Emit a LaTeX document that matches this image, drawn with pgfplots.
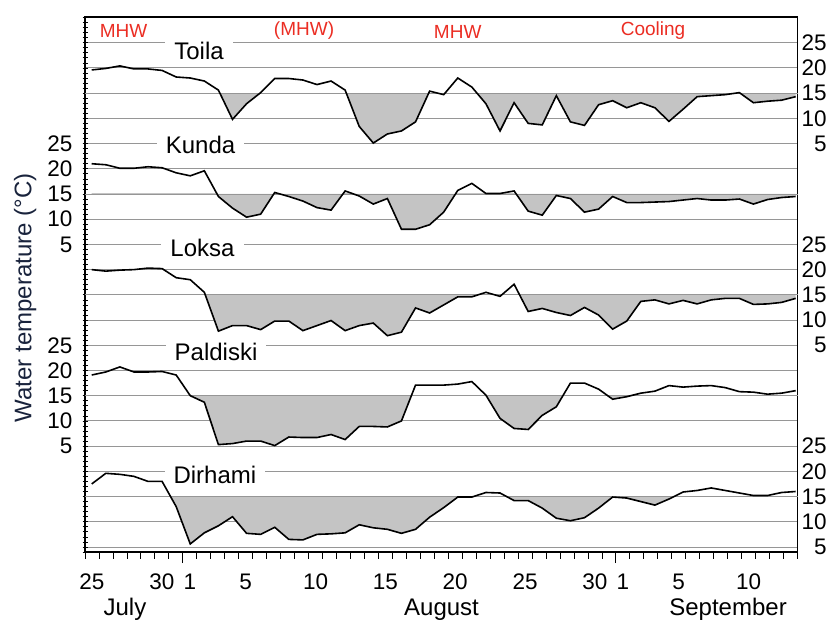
\documentclass[border=0pt]{standalone}
\usepackage{pgfplots}
\pgfplotsset{compat=1.18}
\usepackage{pgfplotstable}
\usepackage{fontspec}
\setmainfont{Liberation Sans}
\definecolor{mhwred}{RGB}{235,45,35}
\definecolor{gridgray}{RGB}{150,150,150}
\definecolor{shade}{RGB}{196,196,196}
\definecolor{ylab}{RGB}{25,35,60}
\newcommand\tickfont{\fontsize{22.5}{26}\selectfont}
\newcommand\namefont{\fontsize{24}{28}\selectfont}
\newcommand\redfont{\fontsize{19}{22}\selectfont}

\pgfplotstableread{
d T
0 19.6
1 19.9
2 20.4
3 19.8
4 19.8
5 19.5
6 18.2
7 18.0
8 17.4
9 15.6
10 9.8
11 12.9
12 15.1
13 17.9
14 17.9
15 17.6
16 16.7
17 17.4
18 15.6
19 8.4
20 5.1
21 6.9
22 7.5
23 9.3
24 15.4
25 14.7
26 18.0
27 16.2
28 12.9
29 7.5
30 13.1
31 9.0
32 8.7
33 14.5
34 9.3
35 8.6
36 12.7
37 13.5
38 12.1
39 13.1
40 12.1
41 9.4
42 11.8
43 14.3
44 14.5
45 14.7
46 15.1
47 13.1
48 13.4
49 13.6
50 14.3
}\toila

\pgfplotstableread{
d T
0 21.0
1 20.8
2 20.1
3 20.1
4 20.4
5 20.2
6 19.2
7 18.6
8 19.6
9 14.5
10 12.2
11 10.4
12 11.0
13 15.3
14 14.5
15 13.6
16 12.3
17 11.8
18 15.6
19 14.6
20 13.0
21 14.1
22 8.0
23 8.0
24 8.9
25 11.4
26 15.7
27 17.1
28 15.1
29 15.1
30 15.6
31 11.6
32 10.8
33 14.7
34 14.1
35 11.4
36 12.0
37 14.5
38 13.3
39 13.3
40 13.4
41 13.5
42 13.8
43 14.1
44 13.8
45 13.8
46 14.0
47 13.0
48 13.9
49 14.3
50 14.5
}\kunda

\pgfplotstableread{
d T
0 20.0
1 19.7
2 19.9
3 20.0
4 20.3
5 20.2
6 18.4
7 18.0
8 15.5
9 7.8
10 8.9
11 8.9
12 8.1
13 9.8
14 9.8
15 7.9
16 8.9
17 9.9
18 7.9
19 8.9
20 9.4
21 6.9
22 7.6
23 12.4
24 11.4
25 13.0
26 14.6
27 14.6
28 15.5
29 14.7
30 17.1
31 11.7
32 12.3
33 11.5
34 10.9
35 12.5
36 11.0
37 8.2
38 9.8
39 13.7
40 14.0
41 13.2
42 13.9
43 13.2
44 14.0
45 14.3
46 14.3
47 13.1
48 13.2
49 13.5
50 14.3
}\loksa

\pgfplotstableread{
d T
0 19.1
1 19.7
2 20.7
3 19.7
4 19.7
5 19.8
6 19.1
7 15.0
8 13.7
9 5.3
10 5.5
11 6.0
12 6.0
13 5.1
14 6.8
15 6.7
16 6.7
17 7.3
18 6.3
19 8.9
20 8.9
21 8.8
22 10.0
23 17.1
24 17.1
25 17.1
26 17.3
27 17.8
28 15.1
29 10.5
30 8.5
31 8.3
32 11.1
33 12.8
34 17.5
35 17.5
36 16.3
37 14.3
38 14.8
39 15.5
40 15.9
41 17.0
42 16.7
43 16.9
44 17.0
45 16.6
46 15.8
47 15.7
48 15.3
49 15.5
50 16.0
}\paldiski

\pgfplotstableread{
d T
0 17.5
1 19.6
2 19.4
3 19.0
4 18.0
5 18.0
6 13.0
7 5.6
8 7.8
9 9.2
10 11.0
11 7.7
12 7.5
13 8.9
14 6.5
15 6.4
16 7.5
17 7.6
18 7.8
19 9.4
20 8.8
21 8.5
22 7.7
23 8.5
24 10.9
25 12.8
26 14.9
27 14.9
28 15.8
29 15.7
30 14.2
31 14.2
32 12.7
33 10.7
34 10.2
35 10.8
36 12.7
37 14.9
38 14.7
39 14.0
40 13.3
41 14.5
42 15.9
43 16.2
44 16.7
45 16.2
46 15.7
47 15.2
48 15.2
49 15.8
50 16.0
}\dirhami

\begin{document}
\begin{tikzpicture}
\pgfplotsset{
  base/.style={
    at={(85pt,69pt)}, anchor=south west,
    width=712.5pt, height=535pt, scale only axis,
    xmin=0, xmax=51, ymin=4, ymax=110.1,
  },
  station/.style={black, line width=1.6pt, mark=none},
  shadefill/.style={fill=shade, draw=none},
}
% axis A: horizontal grid and right-hand tick labels
\begin{axis}[base,
  axis x line=none, axis y line*=right,
  axis line style={line width=1.6pt},
  xtick=\empty,
  ytick={5,10,15,20,25,30,35,40,45,50,55,60,65,70,75,80,85,90,95,100,105},
  yticklabels={5,10,15,20,25,{},{},{},5,10,15,20,25,{},{},{},5,10,15,20,25},
  major tick length=0pt,
  ymajorgrids,
  major grid style={gridgray, line width=0.9pt},
  yticklabel style={anchor=west, text width=25pt, align=right, inner sep=0pt, xshift=4pt, font=\tickfont},
]
\end{axis}
% axis B: daily ticks on the time axis
\begin{axis}[base,
  axis y line=none, axis x line*=bottom,
  axis line style={line width=1.6pt},
  ytick=\empty,
  xtick={7,38}, xticklabels={},
  minor xtick={0,...,51},
  major tick length=11pt, minor tick length=6.5pt,
  tick align=outside,
  tick style={black, line width=0.8pt},
]
\end{axis}
% main axis
\begin{axis}[base,
  axis line style={line width=1.6pt},
  clip=false,
  xtick={0.5,5.5,7.5,11.5,16.5,21.5,26.5,31.5,36.5,38.5,42.5,47.5},
  xticklabels={25,30,1,5,10,15,20,25,30,1,5,10},
  xtick style={draw=none},
  xticklabel style={font=\tickfont, inner sep=0pt, yshift=-19pt},
  ytick={25,30,35,40,45,65,70,75,80,85},
  yticklabels={5,10,15,20,25,5,10,15,20,25},
  ytick pos=left,
  minor ytick={4,5,...,110},
  major tick length=5pt, minor tick length=5pt, tick align=center,
  ytick style={black, line width=0.7pt},
  yticklabel style={font=\tickfont, inner sep=0pt, xshift=-10pt},
]
% shaded areas below 15 degC (clipped to below each threshold)
\begin{scope}
\clip (axis cs:0,70) rectangle (axis cs:51,95);
\addplot[shadefill] table[x expr=\thisrow{d}*1.0078+0.48, y expr=\thisrow{T}+80] {\toila} -- (axis cs:50.87,95) -- (axis cs:0.48,95) -- cycle;
\end{scope}
\begin{scope}
\clip (axis cs:0,50) rectangle (axis cs:51,75);
\addplot[shadefill] table[x expr=\thisrow{d}*1.0078+0.48, y expr=\thisrow{T}+60] {\kunda} -- (axis cs:50.87,75) -- (axis cs:0.48,75) -- cycle;
\end{scope}
\begin{scope}
\clip (axis cs:0,30) rectangle (axis cs:51,55);
\addplot[shadefill] table[x expr=\thisrow{d}*1.0078+0.48, y expr=\thisrow{T}+40] {\loksa} -- (axis cs:50.87,55) -- (axis cs:0.48,55) -- cycle;
\end{scope}
\begin{scope}
\clip (axis cs:0,10) rectangle (axis cs:51,35);
\addplot[shadefill] table[x expr=\thisrow{d}*1.0078+0.48, y expr=\thisrow{T}+20] {\paldiski} -- (axis cs:50.87,35) -- (axis cs:0.48,35) -- cycle;
\end{scope}
\begin{scope}
\clip (axis cs:0,4) rectangle (axis cs:51,15);
\addplot[shadefill] table[x expr=\thisrow{d}*1.0078+0.48, y expr=\thisrow{T}] {\dirhami} -- (axis cs:50.87,15) -- (axis cs:0.48,15) -- cycle;
\end{scope}
% threshold lines re-drawn over the shading
\draw[gridgray, line width=0.9pt] (axis cs:0,95) -- (axis cs:51,95);
\draw[gridgray, line width=0.9pt] (axis cs:0,75) -- (axis cs:51,75);
\draw[gridgray, line width=0.9pt] (axis cs:0,55) -- (axis cs:51,55);
\draw[gridgray, line width=0.9pt] (axis cs:0,35) -- (axis cs:51,35);
\draw[gridgray, line width=0.9pt] (axis cs:0,15) -- (axis cs:51,15);
% station names
\node[font=\namefont, fill=white, inner xsep=9pt, inner ysep=2pt] at (axis cs:8.16,103.4) {Toila};
\node[font=\namefont, fill=white, inner xsep=9pt, inner ysep=2pt] at (axis cs:8.27,84.7) {Kunda};
\node[font=\namefont, fill=white, inner xsep=9pt, inner ysep=2pt] at (axis cs:8.41,64.3) {Loksa};
\node[font=\namefont, fill=white, inner xsep=9pt, inner ysep=2pt] at (axis cs:9.38,43.7) {Paldiski};
\node[font=\namefont, fill=white, inner xsep=9pt, inner ysep=2pt] at (axis cs:9.3,19.2) {Dirhami};
% event labels
\node[font=\redfont, text=mhwred] at (axis cs:2.76,107.4) {MHW};
\node[font=\redfont, text=mhwred] at (axis cs:15.68,107.5) {(MHW)};
\node[font=\redfont, text=mhwred] at (axis cs:26.68,107.2) {MHW};
\node[font=\redfont, text=mhwred] at (axis cs:40.66,107.4) {Cooling};
% months
\node[font=\namefont, anchor=base] at (axis cs:2.86,-8.5) {July};
\node[font=\namefont, anchor=base] at (axis cs:25.52,-8.5) {August};
\node[font=\namefont, anchor=base] at (axis cs:46.03,-8.5) {September};
% y label
\node[font=\namefont, text=ylab, rotate=90] at (axis cs:-4.29,54.4) {Water temperature (°C)};

\addplot[station] table[x expr=\thisrow{d}*1.0078+0.48, y expr=\thisrow{T}+80] {\toila};
\addplot[station] table[x expr=\thisrow{d}*1.0078+0.48, y expr=\thisrow{T}+60] {\kunda};
\addplot[station] table[x expr=\thisrow{d}*1.0078+0.48, y expr=\thisrow{T}+40] {\loksa};
\addplot[station] table[x expr=\thisrow{d}*1.0078+0.48, y expr=\thisrow{T}+20] {\paldiski};
\addplot[station] table[x expr=\thisrow{d}*1.0078+0.48, y expr=\thisrow{T}] {\dirhami};
\end{axis}
\pgfresetboundingbox
\path[use as bounding box] (0,0) rectangle (829pt,621pt);
\end{tikzpicture}
\end{document}
